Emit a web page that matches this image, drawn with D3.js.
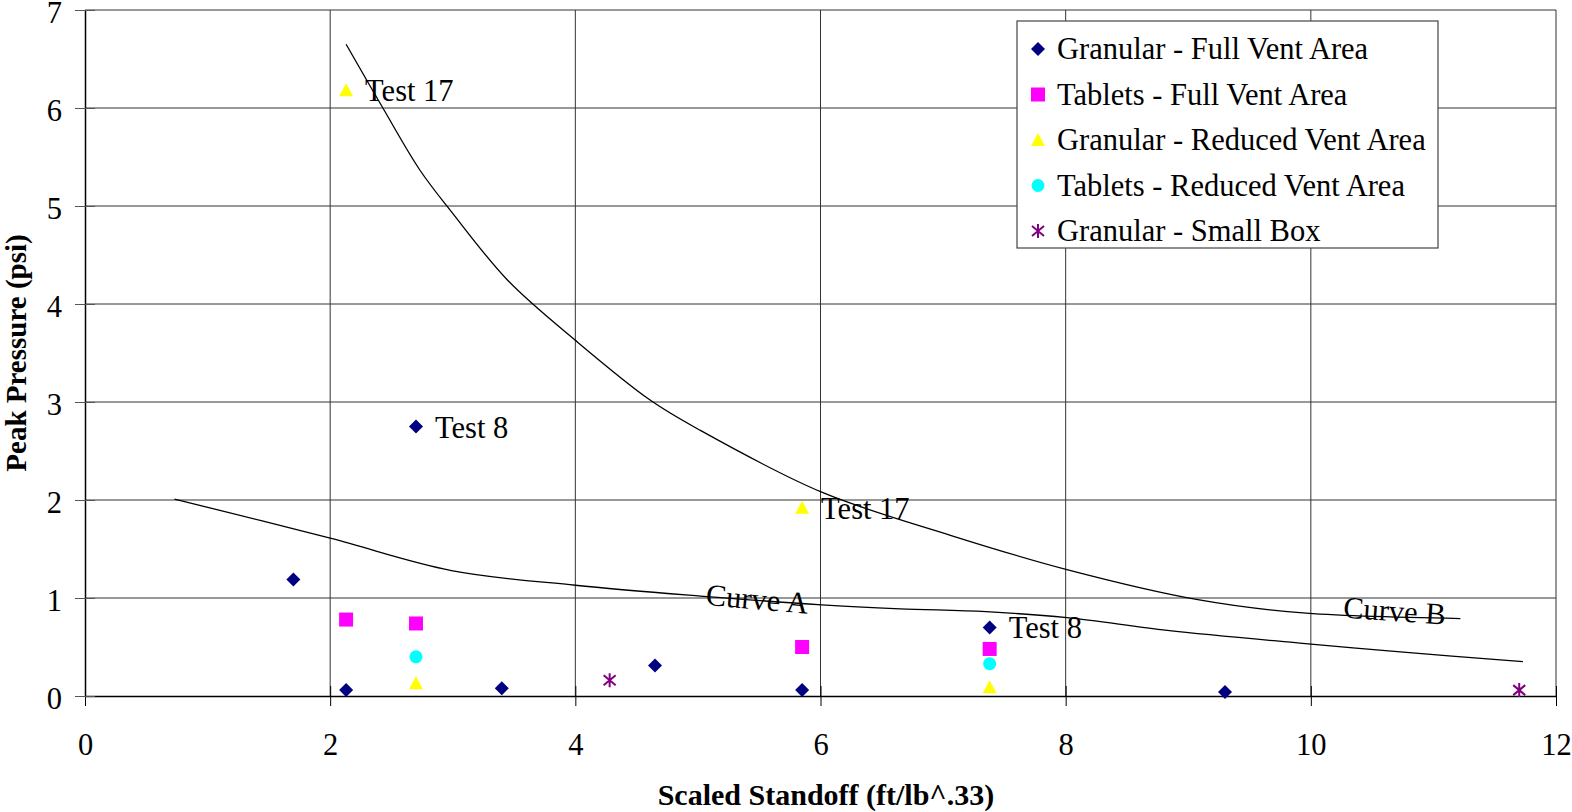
<!DOCTYPE html>
<html>
<head>
<meta charset="utf-8">
<script src="https://cdn.jsdelivr.net/npm/d3@7"></script>
<style>
  html, body { margin: 0; padding: 0; background: #fff; }
  svg { display: block; }
  text { font-family: "Liberation Serif", "Times New Roman", serif; fill: #000; }
</style>
</head>
<body>
<svg id="chart" width="1572" height="812"></svg>
<script>
// Peak pressure vs. scaled standoff
const xTicks = [0, 2, 4, 6, 8, 10, 12];
const yTicks = [0, 1, 2, 3, 4, 5, 6, 7];

const seriesNames = [
  "Granular - Full Vent Area",
  "Tablets - Full Vent Area",
  "Granular - Reduced Vent Area",
  "Tablets - Reduced Vent Area",
  "Granular - Small Box"
];
const seriesColors = ["#000080", "#FF00FF", "#FFFF00", "#00FFFF", "#800080"];
const seriesSymbols = ["diamond", "square", "triangle", "circle", "asterisk"];

const granularFull = [
  [1.70, 1.19], [2.13, 0.06], [2.70, 2.75], [3.40, 0.08],
  [4.65, 0.31], [5.85, 0.06], [7.38, 0.70], [9.30, 0.04]
];
const tabletsFull = [[2.13, 0.78], [2.70, 0.74], [5.85, 0.50], [7.38, 0.48]];
const granularReduced = [[2.13, 6.18], [2.70, 0.13], [5.85, 1.92], [7.38, 0.09]];
const tabletsReduced = [[2.70, 0.40], [7.38, 0.33]];
const granularSmallBox = [[4.28, 0.16], [11.70, 0.06]];
const seriesValues = [granularFull, tabletsFull, granularReduced, tabletsReduced, granularSmallBox];

// point annotations: [series index, point index, text]
const pointLabels = [
  [2, 0, "Test 17"],
  [0, 2, "Test 8"],
  [2, 2, "Test 17"],
  [0, 6, "Test 8"]
];

const curveA = [
  [0.73, 2.01], [2.00, 1.61], [2.99, 1.28], [4.00, 1.13], [5.02, 1.02],
  [6.01, 0.93], [6.65, 0.89], [7.35, 0.86], [8.01, 0.80], [8.83, 0.67],
  [9.91, 0.54], [10.73, 0.45], [11.73, 0.35]
];
const curveB = [
  [2.13, 6.65], [2.43, 6.00], [2.73, 5.37], [2.99, 4.94], [3.45, 4.24],
  [4.00, 3.63], [4.61, 3.02], [5.02, 2.71], [6.01, 2.08], [7.06, 1.64],
  [8.01, 1.29], [9.09, 0.98], [9.91, 0.85], [11.22, 0.79]
];
// curve captions: [text, x, y, rotation]
const curveLabels = [["Curve A", 5.06, 0.93, 5], ["Curve B", 10.26, 0.80, 4]];

const svg = d3.select("#chart");
const plotLeft = 85, plotRight = 1556, plotTop = 10, plotBottom = 696;

const x = d3.scaleLinear().domain([0, 12]).range([plotLeft, plotRight]);
const y = d3.scaleLinear().domain([0, 7]).range([plotBottom, plotTop]);

const fontSize = 30.5;

// grid
const grid = svg.append("g");
grid.selectAll("line.h").data(yTicks.filter(d => d > 0)).join("line")
  .attr("x1", plotLeft).attr("x2", plotRight)
  .attr("y1", d => y(d)).attr("y2", d => y(d))
  .attr("stroke", "#333").attr("stroke-width", 1);
grid.selectAll("line.v").data(xTicks.filter(d => d > 0)).join("line")
  .attr("y1", plotTop).attr("y2", plotBottom)
  .attr("x1", d => x(d)).attr("x2", d => x(d))
  .attr("stroke", "#333").attr("stroke-width", 1);

// axes
const xAxis = d3.axisBottom(x).tickValues(xTicks).tickFormat(d3.format("d"))
  .tickSizeInner(10).tickSizeOuter(0).tickPadding(27);
const gx = svg.append("g").attr("transform", `translate(0,${plotBottom})`).call(xAxis);
gx.select(".domain").attr("stroke", "#000").attr("stroke-width", 1.5);
gx.selectAll(".tick line").attr("stroke", "#000").attr("y1", -10);
gx.selectAll(".tick text").attr("font-size", fontSize).attr("font-family", "Liberation Serif");

const yAxis = d3.axisLeft(y).tickValues(yTicks).tickFormat(d3.format("d"))
  .tickSizeInner(10).tickSizeOuter(0).tickPadding(13);
const gy = svg.append("g").attr("transform", `translate(${plotLeft},0)`).call(yAxis);
gy.select(".domain").attr("stroke", "#000").attr("stroke-width", 1.5);
gy.selectAll(".tick line").attr("stroke", "#555").attr("x1", 10);
gy.selectAll(".tick text").attr("font-size", fontSize).attr("font-family", "Liberation Serif")
  .attr("dy", "0.42em");

// axis titles
svg.append("text")
  .attr("x", 826).attr("y", 805)
  .attr("text-anchor", "middle").attr("font-weight", "bold").attr("font-size", 30)
  .text("Scaled Standoff (ft/lb^.33)");
svg.append("text")
  .attr("transform", `translate(26,${(plotTop + plotBottom) / 2}) rotate(-90)`)
  .attr("text-anchor", "middle").attr("font-weight", "bold").attr("font-size", 29)
  .text("Peak Pressure (psi)");

// curves
const line = d3.line().x(d => x(d[0])).y(d => y(d[1])).curve(d3.curveCatmullRom.alpha(0.5));
[curveA, curveB].forEach(c => {
  svg.append("path").datum(c).attr("d", line)
    .attr("fill", "none").attr("stroke", "#000").attr("stroke-width", 1.3);
});
curveLabels.forEach(([t, cx, cy, r]) => {
  svg.append("text")
    .attr("transform", `translate(${x(cx)},${y(cy)}) rotate(${r})`)
    .attr("font-size", fontSize).text(t);
});

// marker shapes
function drawMarker(g, sym, color) {
  if (sym === "diamond") {
    g.append("path").attr("d", "M0,-7L7,0L0,7L-7,0Z").attr("fill", color);
  } else if (sym === "square") {
    g.append("rect").attr("x", -7).attr("y", -7).attr("width", 14).attr("height", 14).attr("fill", color);
  } else if (sym === "triangle") {
    g.append("path").attr("d", "M0,-7L7,6L-7,6Z").attr("fill", color);
  } else if (sym === "circle") {
    g.append("circle").attr("r", 6.5).attr("fill", color);
  } else if (sym === "asterisk") {
    g.append("path").attr("d", "M0,-7V7M-6,-5L6,5M-6,5L6,-5")
      .attr("stroke", color).attr("stroke-width", 2).attr("fill", "none");
  }
}

seriesValues.forEach((vals, i) => {
  const g = svg.append("g");
  vals.forEach(d => {
    const m = g.append("g").attr("transform", `translate(${x(d[0])},${y(d[1])})`);
    drawMarker(m, seriesSymbols[i], seriesColors[i]);
  });
});

pointLabels.forEach(([si, pi, t]) => {
  const d = seriesValues[si][pi];
  svg.append("text")
    .attr("x", x(d[0]) + 19).attr("y", y(d[1]) + 11)
    .attr("font-size", fontSize).text(t);
});

// legend
const lg = svg.append("g").attr("transform", "translate(1017,21)");
lg.append("rect").attr("width", 421).attr("height", 227)
  .attr("fill", "#fff").attr("stroke", "#444").attr("stroke-width", 1.2);
seriesNames.forEach((name, i) => {
  const row = lg.append("g").attr("transform", `translate(21,${28 + i * 45.5})`);
  drawMarker(row, seriesSymbols[i], seriesColors[i]);
  row.append("text").attr("x", 19).attr("y", 10).attr("font-size", fontSize).text(name);
});
</script>
</body>
</html>
